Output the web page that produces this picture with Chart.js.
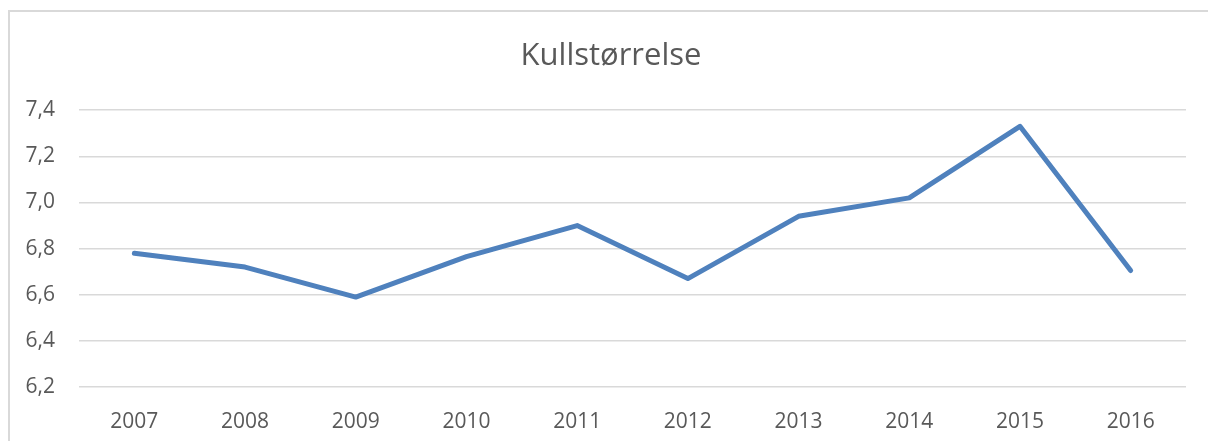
<!DOCTYPE html>
<html>
<head>
<meta charset="utf-8">
<script src="https://cdn.jsdelivr.net/npm/chart.js@4"></script>
<style>
  html, body { margin: 0; padding: 0; background: #fff; overflow: hidden; }
  #frame { position: absolute; left: 8px; top: 10px; width: 1220px; height: 460px;
           border: 2px solid #d9d9d9; box-sizing: border-box; }
  #wrap { position: absolute; left: 0; top: 0; width: 1208px; height: 441px; }
</style>
</head>
<body>
<div id="frame"></div>
<div id="wrap"><canvas id="chart"></canvas></div>
<script>
// ── Data ──────────────────────────────────────────────────────────────────────
const YEARS  = ['2007','2008','2009','2010','2011','2012','2013','2014','2015','2016'];
const LITTER = [6.78, 6.72, 6.59, 6.765, 6.90, 6.67, 6.94, 7.02, 7.33, 6.705];
const Y_MIN  = 6.2;
const Y_MAX  = 7.4;
const Y_STEP = 0.2;

const TEXT = '#595959';
const GRID = '#d9d9d9';
const FONT = 'Open Sans';

// ── Chart ─────────────────────────────────────────────────────────────────────
const ctx = document.getElementById('chart').getContext('2d');
new Chart(ctx, {
  type: 'line',
  data: { labels: YEARS, datasets: [{
    label: 'Kullstørrelse',
    data: LITTER,
    borderColor: '#4f81bd',
    borderWidth: 5,
    pointRadius: 0,
    borderCapStyle: 'round',
    borderJoinStyle: 'round',
    tension: 0,
    fill: false,
  }]},
  options: {
    responsive: true,
    maintainAspectRatio: false,
    animation: false,
    layout: { padding: { left: 14, right: 0, top: 0, bottom: 0 } },
    plugins: {
      legend: { display: false },
      tooltip: { enabled: false },
      title: {
        display: true,
        text: 'Kullstørrelse',
        color: TEXT,
        font: { family: FONT, size: 31, weight: 'normal', lineHeight: 1.2 },
        padding: { top: 38, bottom: 35 },
      },
    },
    scales: {
      x: {
        offset: true,
        grid: { display: false },
        border: { display: false },
        ticks: { color: TEXT, font: { family: FONT, size: 21 }, padding: 14, maxRotation: 0 },
        afterFit: s => { s.height = 54; },
      },
      y: {
        min: Y_MIN, max: Y_MAX,
        grid: { color: GRID, lineWidth: 1.5, drawTicks: false },
        border: { display: false },
        ticks: {
          stepSize: Y_STEP, color: TEXT, padding: 24,
          font: { family: FONT, size: 21 },
          callback: v => v.toFixed(1).replace('.', ','),
        },
        afterFit: s => { s.width = 65; },
      },
      y2: {
        position: 'right',
        grid: { display: false },
        border: { display: false },
        ticks: { display: false },
        afterFit: s => { s.width = 22; },
      },
    },
  },
});
</script>
</body>
</html>
